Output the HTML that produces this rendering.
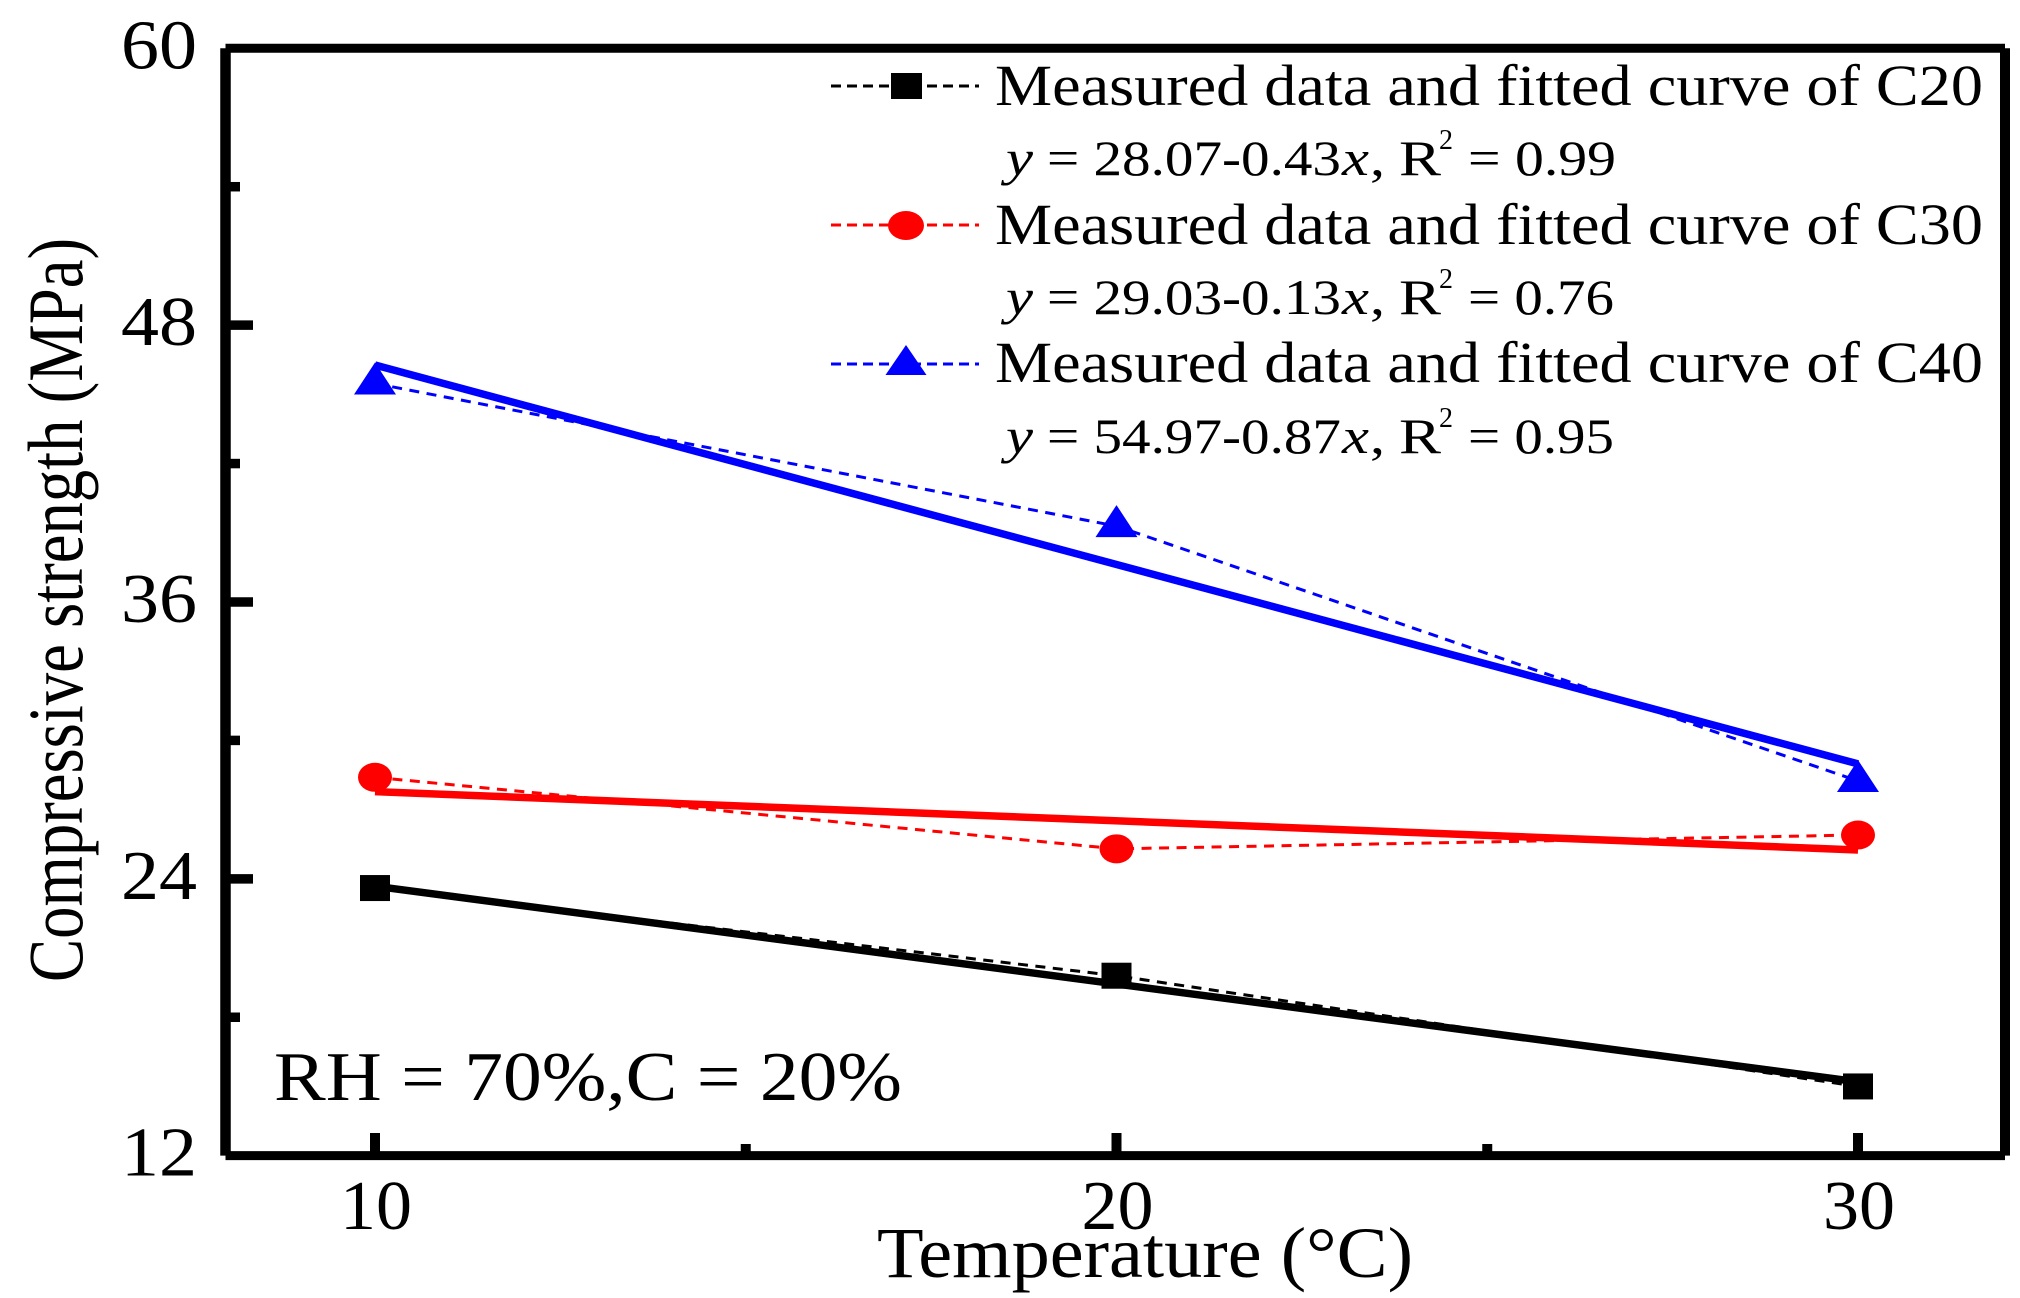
<!DOCTYPE html>
<html lang="en">
<head>
<meta charset="utf-8">
<title>Compressive strength vs temperature</title>
<style>
html,body{margin:0;padding:0;background:#fff;width:2020px;height:1298px;overflow:hidden}
svg{display:block}
text{font-family:"Liberation Serif","Times New Roman",serif;fill:#000}
</style>
</head>
<body>
<svg id="chart" xmlns="http://www.w3.org/2000/svg" width="2020" height="1298" viewBox="0 0 2020 1298">
  <rect x="0" y="0" width="2020" height="1298" fill="#fff"/>
  <g id="axes"></g>
  <g id="series"></g>

  <text transform="rotate(-90)" x="-982" y="82" font-size="78" textLength="744" lengthAdjust="spacingAndGlyphs">Compressive strength (MPa)</text>
  <text x="877" y="1277" font-size="72" textLength="536" lengthAdjust="spacingAndGlyphs">Temperature (°C)</text>
  <text x="274" y="1100" font-size="70" textLength="628" lengthAdjust="spacingAndGlyphs">RH = 70%,C = 20%</text>

  <g>
    <g>
      <line x1="831" y1="86" x2="979" y2="86" stroke="#000" stroke-width="3" stroke-dasharray="10 6"/>
      <rect x="891" y="73" width="31" height="26" fill="#000"/>
      <text x="995" y="105" font-size="58" textLength="988" lengthAdjust="spacingAndGlyphs">Measured data and fitted curve of C20</text>
    </g>
    <g font-size="50">
      <text x="1006" y="175" font-style="italic" textLength="27" lengthAdjust="spacingAndGlyphs">y</text>
      <text x="1047" y="175" textLength="294" lengthAdjust="spacingAndGlyphs">= 28.07-0.43</text>
      <text x="1342" y="175" font-style="italic" textLength="27" lengthAdjust="spacingAndGlyphs">x</text>
      <text x="1370" y="175" textLength="15" lengthAdjust="spacingAndGlyphs">,</text>
      <text x="1399" y="175" textLength="42" lengthAdjust="spacingAndGlyphs">R</text>
      <text x="1439" y="149" font-size="28" textLength="14" lengthAdjust="spacingAndGlyphs">2</text>
      <text x="1468" y="175" textLength="148" lengthAdjust="spacingAndGlyphs">= 0.99</text>
    </g>
    <g>
      <line x1="831" y1="225" x2="979" y2="225" stroke="#f00" stroke-width="3" stroke-dasharray="10 6"/>
      <ellipse cx="906" cy="225.5" rx="18" ry="14.5" fill="#f00"/>
      <text x="995" y="244" font-size="58" textLength="988" lengthAdjust="spacingAndGlyphs">Measured data and fitted curve of C30</text>
    </g>
    <g font-size="50">
      <text x="1006" y="314" font-style="italic" textLength="27" lengthAdjust="spacingAndGlyphs">y</text>
      <text x="1047" y="314" textLength="294" lengthAdjust="spacingAndGlyphs">= 29.03-0.13</text>
      <text x="1342" y="314" font-style="italic" textLength="27" lengthAdjust="spacingAndGlyphs">x</text>
      <text x="1370" y="314" textLength="15" lengthAdjust="spacingAndGlyphs">,</text>
      <text x="1399" y="314" textLength="42" lengthAdjust="spacingAndGlyphs">R</text>
      <text x="1439" y="288" font-size="28" textLength="14" lengthAdjust="spacingAndGlyphs">2</text>
      <text x="1468" y="314" textLength="146" lengthAdjust="spacingAndGlyphs">= 0.76</text>
    </g>
    <g>
      <line x1="831" y1="364" x2="979" y2="364" stroke="#00f" stroke-width="3" stroke-dasharray="10 6"/>
      <polygon points="906,345 926.5,375 885.5,375" fill="#00f"/>
      <text x="995" y="382" font-size="58" textLength="988" lengthAdjust="spacingAndGlyphs">Measured data and fitted curve of C40</text>
    </g>
    <g font-size="50">
      <text x="1006" y="453" font-style="italic" textLength="27" lengthAdjust="spacingAndGlyphs">y</text>
      <text x="1047" y="453" textLength="294" lengthAdjust="spacingAndGlyphs">= 54.97-0.87</text>
      <text x="1342" y="453" font-style="italic" textLength="27" lengthAdjust="spacingAndGlyphs">x</text>
      <text x="1370" y="453" textLength="15" lengthAdjust="spacingAndGlyphs">,</text>
      <text x="1399" y="453" textLength="42" lengthAdjust="spacingAndGlyphs">R</text>
      <text x="1439" y="427" font-size="28" textLength="14" lengthAdjust="spacingAndGlyphs">2</text>
      <text x="1468" y="453" textLength="146" lengthAdjust="spacingAndGlyphs">= 0.95</text>
    </g>
  </g>
</svg>

<script>
// Chart data
const temperatures = [10, 20, 30];
const fitTemperatures = [10, 30];

const measuredC20 = [23.6, 19.8, 15.0];
const measuredC30 = [28.4, 25.3, 25.9];
const measuredC40 = [45.47, 39.29, 28.24];

const fitC20 = [23.68, 15.2];
const fitC30 = [27.78, 25.25];
const fitC40 = [46.27, 28.98];

const yMajorTicks = [12, 24, 36, 48, 60];
const yMinorTicks = [18, 30, 42, 54];
const xMajorTicks = [10, 20, 30];
const xMinorTicks = [15, 25];

// Axis functions
function xScale(v) { return 375 + (v - 10) * 74.15; }
function yScale(v) { return 48.3 + (60 - v) * 23.07; }

const NS = 'http://www.w3.org/2000/svg';
const axesGroup = document.getElementById('axes');
const seriesGroup = document.getElementById('series');

function drawLine(parent, name, x1, y1, x2, y2, stroke, width, dash) {
  const el = document.createElementNS(NS, 'line');
  
  
  el.setAttribute('x1', x1);
  el.setAttribute('y1', y1);
  el.setAttribute('x2', x2);
  el.setAttribute('y2', y2);
  el.setAttribute('stroke', stroke);
  el.setAttribute('stroke-width', width);
  if (dash) el.setAttribute('stroke-dasharray', dash);
  parent.appendChild(el);
  return el;
}

function drawLabel(name, x, y, str, len) {
  const el = document.createElementNS(NS, 'text');
  
  
  el.setAttribute('x', x);
  el.setAttribute('y', y);
  el.setAttribute('font-size', 70);
  el.setAttribute('text-anchor', 'middle');
  el.setAttribute('textLength', len);
  el.setAttribute('lengthAdjust', 'spacingAndGlyphs');
  el.textContent = str;
  axesGroup.appendChild(el);
}

const plotLeft = 225.5, plotRight = 2005, plotTop = 48.3, plotBottom = 1155.6;

// Spines
drawLine(axesGroup, 'left-axis-line', plotLeft, plotTop, plotLeft, plotBottom, '#000', 10.5);
drawLine(axesGroup, 'top-axis-line', plotLeft, plotTop, plotRight, plotTop, '#000', 9);
drawLine(axesGroup, 'right-axis-line', plotRight, plotTop, plotRight, plotBottom, '#000', 10);
drawLine(axesGroup, 'bottom-axis-line', plotLeft, plotBottom, plotRight, plotBottom, '#000', 9);

// Y ticks
yMajorTicks.forEach(function (v) {
  if (v !== 12 && v !== 60) drawLine(axesGroup, 'y-major-tick-' + v, plotLeft, yScale(v), 253, yScale(v), '#000', 9.5);
  drawLabel('y-tick-label-' + v, 159, yScale(v) + 20, String(v), 76);
});
yMinorTicks.forEach(function (v) {
  drawLine(axesGroup, 'y-minor-tick-' + v, plotLeft, yScale(v), 240, yScale(v), '#000', 9.5);
});

// X ticks
xMajorTicks.forEach(function (v) {
  drawLine(axesGroup, 'x-major-tick-' + v, xScale(v), 1133, xScale(v), plotBottom, '#000', 10);
  drawLabel('x-tick-label-' + v, xScale(v) + 1, 1229, String(v), 72);
});
xMinorTicks.forEach(function (v) {
  drawLine(axesGroup, 'x-minor-tick-' + v, xScale(v), 1144, xScale(v), plotBottom, '#000', 10);
});

function dashedPath(name, values, stroke) {
  const el = document.createElementNS(NS, 'polyline');
  
  
  el.setAttribute('points', values.map(function (v, i) { return xScale(temperatures[i]) + ',' + yScale(v); }).join(' '));
  el.setAttribute('fill', 'none');
  el.setAttribute('stroke', stroke);
  el.setAttribute('stroke-width', 3);
  el.setAttribute('stroke-dasharray', '10 7.5');
  seriesGroup.appendChild(el);
}

function fitLine(name, values, stroke) {
  drawLine(seriesGroup, name, xScale(fitTemperatures[0]), yScale(values[0]), xScale(fitTemperatures[1]), yScale(values[1]), stroke, 7.5);
}

// Measured dashed lines
dashedPath('measured-line-c20', measuredC20, '#000');
dashedPath('measured-line-c30', measuredC30, '#f00');
dashedPath('measured-line-c40', measuredC40, '#00f');

// Fitted lines
fitLine('fitted-line-c20', fitC20, '#000');
fitLine('fitted-line-c30', fitC30, '#f00');
fitLine('fitted-line-c40', fitC40, '#00f');

// Markers
measuredC20.forEach(function (v, i) {
  const el = document.createElementNS(NS, 'rect');
  
  
  el.setAttribute('x', xScale(temperatures[i]) - 15);
  el.setAttribute('y', yScale(v) - 13);
  el.setAttribute('width', 30);
  el.setAttribute('height', 26);
  el.setAttribute('fill', '#000');
  seriesGroup.appendChild(el);
});
measuredC30.forEach(function (v, i) {
  const el = document.createElementNS(NS, 'ellipse');
  
  
  el.setAttribute('cx', xScale(temperatures[i]));
  el.setAttribute('cy', yScale(v));
  el.setAttribute('rx', 17);
  el.setAttribute('ry', 14.5);
  el.setAttribute('fill', '#f00');
  seriesGroup.appendChild(el);
});
measuredC40.forEach(function (v, i) {
  const el = document.createElementNS(NS, 'polygon');
  const cx = xScale(temperatures[i]);
  const cy = yScale(v);
  
  
  el.setAttribute('points', cx + ',' + (cy - 21) + ' ' + (cx + 21) + ',' + (cy + 11) + ' ' + (cx - 21) + ',' + (cy + 11));
  el.setAttribute('fill', '#00f');
  seriesGroup.appendChild(el);
});
</script>
</body>
</html>
